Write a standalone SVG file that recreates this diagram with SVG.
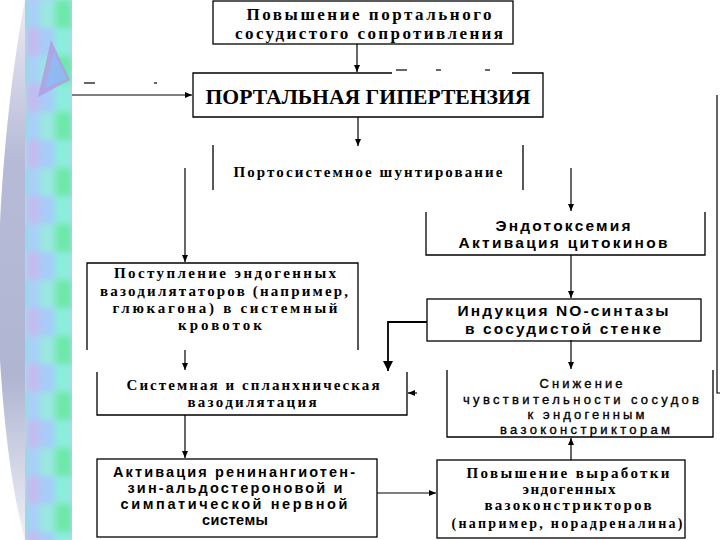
<svg xmlns="http://www.w3.org/2000/svg" width="720" height="540" viewBox="0 0 720 540">
<defs>
<style>
.box{fill:none;stroke:#000;stroke-width:1.3}
.ln{fill:none;stroke:#000;stroke-width:1.2}
.serif{font-family:"Liberation Serif","Times New Roman",serif;font-weight:bold;fill:#000}
.sans{font-family:"Liberation Sans",Arial,sans-serif;font-weight:bold;fill:#000}
.sansn{font-family:"Liberation Sans",Arial,sans-serif;font-weight:normal;fill:#000;stroke:#000;stroke-width:0.35}
.dash{stroke:#000;stroke-width:1.2}
</style>
<marker id="ah" markerWidth="8" markerHeight="8" refX="7" refY="4" orient="auto" markerUnits="userSpaceOnUse">
<path d="M0,1 L7,4 L0,7 z" fill="#000"/>
</marker>
<marker id="ahb" markerWidth="12" markerHeight="12" refX="10" refY="6" orient="auto" markerUnits="userSpaceOnUse">
<path d="M0,1 L10,6 L0,11 z" fill="#000"/>
</marker>
<pattern id="tiles" x="25" y="0" width="47" height="56" patternUnits="userSpaceOnUse">
<rect x="0" y="0" width="15" height="28" fill="#a8d0f8"/>
<rect x="0" y="28" width="15" height="28" fill="#c2bcf0"/>
<rect x="15" y="0" width="15" height="28" fill="#9ae8e0"/>
<rect x="15" y="28" width="15" height="28" fill="#a6ccf8"/>
<rect x="30" y="0" width="17" height="28" fill="#6ee8a8"/>
<rect x="30" y="28" width="17" height="28" fill="#8aeedc"/>
</pattern>
<filter id="soft" x="-10%" y="-10%" width="120%" height="120%">
<feGaussianBlur stdDeviation="3"/>
</filter>
<clipPath id="stripeClip"><rect x="25" y="0" width="47" height="540"/></clipPath>
<linearGradient id="cres" x1="0" y1="0" x2="0" y2="1">
<stop offset="0" stop-color="#eceaf6"/>
<stop offset="0.3" stop-color="#b6bad6"/>
<stop offset="0.7" stop-color="#b0b6d2"/>
<stop offset="1" stop-color="#f0f0f8"/>
</linearGradient>
</defs>
<rect width="720" height="540" fill="#fff"/>

<g id="decoration">
<path d="M25,0 C2,120 -6,280 0,360 C5,440 14,500 25,540 Z" fill="url(#cres)"/>
<g clip-path="url(#stripeClip)">
<rect x="20" y="-5" width="57" height="550" fill="url(#tiles)" filter="url(#soft)"/>
</g>
<polygon points="51,40 70,80 38,97" fill="#b09ce0" opacity="0.85"/>
<polygon points="54,52 67,79 45,88" fill="#8cbcf6" opacity="0.85"/>
<line x1="84" y1="83" x2="95" y2="83" class="dash"/>
<line x1="154" y1="83" x2="157" y2="83" class="dash"/>
<line x1="396" y1="70" x2="407" y2="70" class="dash"/>
<line x1="436" y1="70" x2="441" y2="70" class="dash"/>
<line x1="485" y1="70" x2="490" y2="70" class="dash"/>
</g>

<g id="connectors">
<path class="ln" d="M357,44 V72" marker-end="url(#ah)"/>
<path class="ln" d="M72,95 H192" marker-end="url(#ah)"/>
<path class="ln" d="M358,117 V146" marker-end="url(#ah)"/>
<path class="ln" d="M185,168 V262" marker-end="url(#ah)"/>
<path class="ln" d="M571,168 V211" marker-end="url(#ah)"/>
<path class="ln" d="M571,255 V298" marker-end="url(#ah)"/>
<path d="M427,322 H388 V371" fill="none" stroke="#000" stroke-width="1.8" marker-end="url(#ahb)"/>
<path class="ln" d="M185,350 V370" marker-end="url(#ah)"/>
<path class="ln" d="M571,340 V369" marker-end="url(#ah)"/>
<path class="ln" d="M185,415 V458" marker-end="url(#ah)"/>
<path class="ln" d="M377,493 H436" marker-end="url(#ah)"/>
<path class="ln" d="M571,460 V438" marker-end="url(#ah)"/>
<path class="ln" d="M717,95 V393 H720"/>
<path class="ln" d="M417,393 H408" marker-end="url(#ah)"/>
</g>

<g id="n1">
<rect class="box" x="213" y="1" width="300" height="43"/>
<text class="serif" font-size="17" x="369" y="20" text-anchor="middle" textLength="245" lengthAdjust="spacing">Повышение портального</text>
<text class="serif" font-size="17" x="369" y="39" text-anchor="middle" textLength="268" lengthAdjust="spacing">сосудистого сопротивления</text>
</g>

<g id="n2">
<path class="box" d="M392,73 H193 V117 H543 V73 H512"/>
<text class="serif" font-size="20" x="368" y="104" text-anchor="middle" textLength="325" lengthAdjust="spacingAndGlyphs">ПОРТАЛЬНАЯ ГИПЕРТЕНЗИЯ</text>
</g>

<g id="n3">
<path class="box" d="M213,145 V190 M523,145 V190"/>
<text class="serif" font-size="15" x="368" y="177" text-anchor="middle" textLength="269" lengthAdjust="spacing">Портосистемное шунтирование</text>
</g>

<g id="n4">
<path class="box" d="M426,212 V255 H705 V212"/>
<text class="sans" font-size="15.5" x="563" y="231" text-anchor="middle" textLength="135" lengthAdjust="spacing">Эндотоксемия</text>
<text class="sans" font-size="15.5" x="563" y="248" text-anchor="middle" textLength="209" lengthAdjust="spacing">Активация цитокинов</text>
</g>

<g id="n5">
<rect class="box" x="427" y="299" width="274" height="42"/>
<text class="sans" font-size="15.5" x="563" y="316" text-anchor="middle" textLength="211" lengthAdjust="spacing">Индукция NO-синтазы</text>
<text class="sans" font-size="15.5" x="563" y="334" text-anchor="middle" textLength="196" lengthAdjust="spacing">в сосудистой стенке</text>
</g>

<g id="n6">
<path class="box" d="M87,350 V263 H358 V350"/>
<text class="serif" font-size="15" x="225" y="278" text-anchor="middle" textLength="222" lengthAdjust="spacing">Поступление эндогенных</text>
<text class="serif" font-size="15" x="224" y="296" text-anchor="middle" textLength="248" lengthAdjust="spacing">вазодилятаторов (например,</text>
<text class="serif" font-size="15" x="225" y="313" text-anchor="middle" textLength="225" lengthAdjust="spacing">глюкагона) в системный</text>
<text class="serif" font-size="15" x="220" y="330" text-anchor="middle" textLength="84" lengthAdjust="spacing">кровоток</text>
</g>

<g id="n7">
<path class="box" d="M97,372 V415 H407 V372"/>
<text class="serif" font-size="15" x="253" y="390" text-anchor="middle" textLength="253" lengthAdjust="spacing">Системная и спланхническая</text>
<text class="serif" font-size="15" x="252" y="407" text-anchor="middle" textLength="129" lengthAdjust="spacing">вазодилятация</text>
</g>

<g id="n8">
<path class="box" d="M447,370 V437 H713 V370"/>
<text class="sansn" font-size="13" x="581" y="388" text-anchor="middle" textLength="83" lengthAdjust="spacing">Снижение</text>
<text class="sansn" font-size="13" x="581" y="404" text-anchor="middle" textLength="236" lengthAdjust="spacing">чувствительности сосудов</text>
<text class="sansn" font-size="13" x="586" y="419" text-anchor="middle" textLength="117" lengthAdjust="spacing">к эндогенным</text>
<text class="sansn" font-size="13" x="585" y="434" text-anchor="middle" textLength="170" lengthAdjust="spacing">вазоконстрикторам</text>
</g>

<g id="n9">
<rect class="box" x="97" y="459" width="280" height="78"/>
<text class="sans" font-size="14.5" x="234" y="477" text-anchor="middle" textLength="242" lengthAdjust="spacing">Активация ренинангиотен-</text>
<text class="sans" font-size="14.5" x="235" y="493" text-anchor="middle" textLength="215" lengthAdjust="spacing">зин-альдостероновой и</text>
<text class="sans" font-size="14.5" x="234" y="509" text-anchor="middle" textLength="227" lengthAdjust="spacing">симпатической нервной</text>
<text class="sans" font-size="14.5" x="235" y="525" text-anchor="middle" textLength="66" lengthAdjust="spacing">системы</text>
</g>

<g id="n10">
<rect class="box" x="437" y="460" width="248" height="78"/>
<text class="serif" font-size="15" x="568" y="478" text-anchor="middle" textLength="203" lengthAdjust="spacing">Повышение выработки</text>
<text class="serif" font-size="15" x="569" y="494" text-anchor="middle" textLength="93" lengthAdjust="spacing">эндогенных</text>
<text class="serif" font-size="15" x="568" y="510" text-anchor="middle" textLength="167" lengthAdjust="spacing">вазоконстрикторов</text>
<text class="serif" font-size="14" x="567" y="528" text-anchor="middle" textLength="231" lengthAdjust="spacing">(например, норадреналина)</text>
</g>
</svg>
